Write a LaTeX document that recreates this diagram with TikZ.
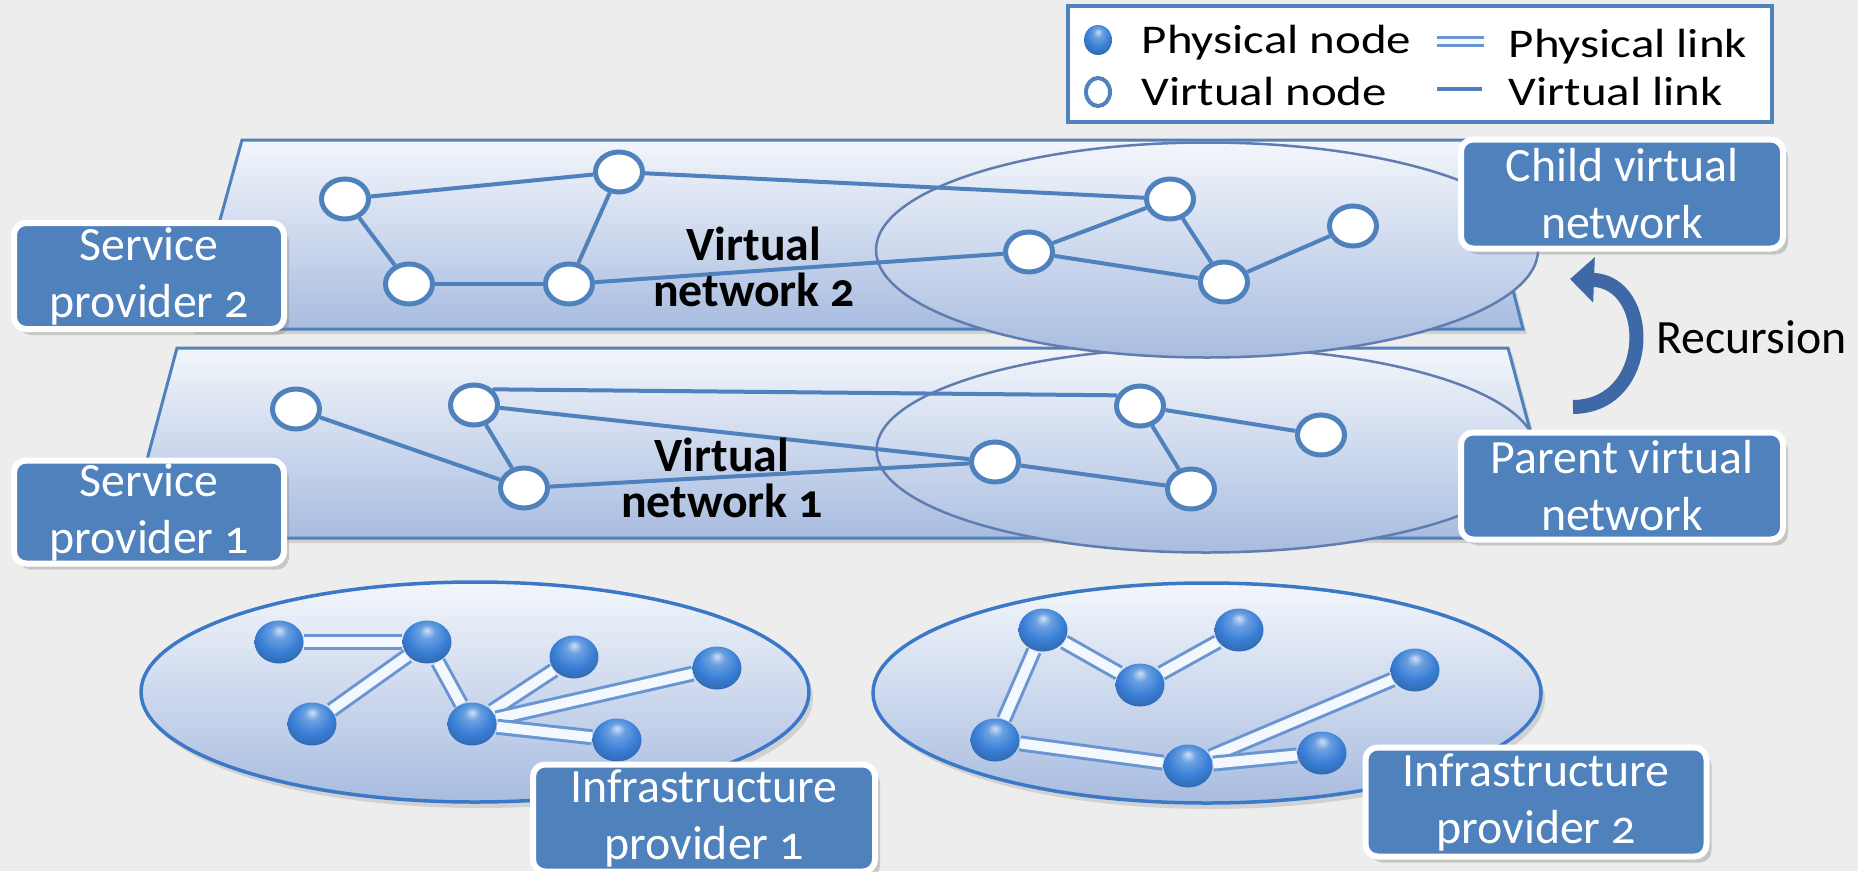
\documentclass[tikz,border=0pt]{standalone}
\usepackage{fontspec}
\setmainfont{Carlito}[Numbers=OldStyle]
\newfontfamily\legendfont{Carlito}[FakeStretch=1.2]
\usetikzlibrary{shapes.geometric}
\usetikzlibrary{shadows}
\usetikzlibrary{arrows.meta}

\definecolor{bggray}{RGB}{237,237,237}
\definecolor{boxblue}{RGB}{79,129,189}
\definecolor{vblue}{RGB}{79,129,189}
\definecolor{planetop}{RGB}{243,246,251}
\definecolor{planebot}{RGB}{168,188,224}
\definecolor{cloudedge}{RGB}{95,125,175}
\definecolor{infraedge}{RGB}{60,120,200}
\definecolor{pblue}{RGB}{58,128,215}
\definecolor{linkfill}{RGB}{242,248,254}
\definecolor{linkedge}{RGB}{105,150,210}
\definecolor{arrblue}{RGB}{62,104,166}

\pgfdeclareradialshading{globe}{\pgfqpoint{0bp}{14bp}}{%
  color(0bp)=(pblue!25!white); color(8bp)=(pblue!75!white); color(20bp)=(pblue);
  color(32bp)=(pblue!80!black); color(50bp)=(pblue!55!black)}

\begin{document}
\begin{tikzpicture}
  [x=0.1mm,y=-0.1mm,
  vplane/.style={draw=vblue,line width=0.3mm,top color=planetop,bottom color=planebot,
    drop shadow={opacity=0.25,shadow xshift=0.4mm,shadow yshift=-0.5mm}},
  netcloud/.style={ellipse,draw=cloudedge,line width=0.25mm,top color=planetop,bottom color=planebot,inner sep=0pt},
  infracloud/.style={netcloud,draw=infraedge,line width=0.35mm,
    drop shadow={opacity=0.25,shadow xshift=0.4mm,shadow yshift=-0.6mm}},
  vnode/.style={ellipse,draw=vblue,line width=0.5mm,fill=white,inner sep=0pt,minimum width=4.7mm,minimum height=4.0mm},
  pnode/.style={ellipse,shade,shading=globe,inner sep=0pt,minimum width=4.9mm,minimum height=4.3mm},
  vlink/.style={draw=vblue,line width=0.4mm},
  plink/.style={draw=linkedge,line width=0.3mm,double=linkfill,double distance=1.0mm},
  provbox/.style={rectangle,rounded corners=1.2mm,draw=white,line width=0.6mm,fill=boxblue,text=white,
    align=center,inner sep=0pt,font=\fontsize{13.6}{16.2}\selectfont,
    drop shadow={opacity=0.35,shadow xshift=0.5mm,shadow yshift=-0.6mm}},
  netlabel/.style={align=center,inner sep=0pt,font=\fontsize{13.6}{13}\selectfont\bfseries},
  legtext/.style={anchor=base west,inner sep=0pt,font=\legendfont\fontsize{11.6}{14}\selectfont},
  recarrow/.style={draw=arrblue,line width=1.4mm,-{Triangle[length=2.4mm,width=4.4mm]}}]

  \fill[bggray] (0,0) rectangle (1858,871);
  \useasboundingbox (0,0) rectangle (1858,871);

  % virtual network 1
  \draw[vplane] (177,348) -- (1508,348) -- (1559,538) -- (126,538) -- cycle;
  \node[netcloud,minimum width=65.9mm,minimum height=20.5mm] (parentnet) at (1206,450) {};

  \node[vnode] (v11) at (296,409) {};
  \node[vnode] (v12) at (474,405) {};
  \node[vnode] (v13) at (524,488) {};
  \node[vnode] (v14) at (1140,406) {};
  \node[vnode] (v15) at (995,462) {};
  \node[vnode] (v16) at (1191,489) {};
  \node[vnode] (v17) at (1321,435) {};

  \draw[vlink] (v11) -- (v13);
  \draw[vlink] (v12) -- (v13);
  \draw[vlink] (v12.40) -- (v14.155);
  \draw[vlink] (v12) -- (v15);
  \draw[vlink] (v13) -- (v15);
  \draw[vlink] (v14) -- (v16);
  \draw[vlink] (v14) -- (v17);
  \draw[vlink] (v15) -- (v16);

  \node[netlabel] (vn1) at (722,478) {Virtual\\network 1};

  % virtual network 2
  \draw[vplane] (242,140) -- (1474,140) -- (1523,329) -- (190,329) -- cycle;
  \node[netcloud,minimum width=66.2mm,minimum height=21.5mm] (childnet) at (1207,250) {};

  \node[vnode] (v21) at (345,199) {};
  \node[vnode] (v22) at (619,172) {};
  \node[vnode] (v23) at (409,284) {};
  \node[vnode] (v24) at (569,284) {};
  \node[vnode] (v25) at (1170,199) {};
  \node[vnode] (v26) at (1029,252) {};
  \node[vnode] (v27) at (1224,282) {};
  \node[vnode] (v28) at (1353,226) {};

  \draw[vlink] (v21) -- (v22);
  \draw[vlink] (v21) -- (v23);
  \draw[vlink] (v23) -- (v24);
  \draw[vlink] (v24) -- (v22);
  \draw[vlink] (v22) -- (v25);
  \draw[vlink] (v24) -- (v26);
  \draw[vlink] (v26) -- (v25);
  \draw[vlink] (v26) -- (v27);
  \draw[vlink] (v25) -- (v27);
  \draw[vlink] (v27) -- (v28);

  \node[netlabel] (vn2) at (754,267) {Virtual\\network 2};

  % infrastructure 1
  \node[infracloud,minimum width=66.8mm,minimum height=22mm] (infra1) at (475,692) {};

  \node[pnode] (p11) at (279,642) {};
  \node[pnode] (p12) at (427,642) {};
  \node[pnode] (p13) at (312,724) {};
  \node[pnode] (p14) at (574,657) {};
  \node[pnode] (p15) at (472,724) {};
  \node[pnode] (p16) at (717,668) {};
  \node[pnode] (p17) at (617,740) {};

  \draw[plink] (p11) -- (p12);
  \draw[plink] (p12) -- (p13);
  \draw[plink] (p12) -- (p15);
  \draw[plink] (p15) -- (p14);
  \draw[plink] (p15) -- (p16);
  \draw[plink] (p15) -- (p17);

  % infrastructure 2
  \node[infracloud,minimum width=66.8mm,minimum height=22mm] (infra2) at (1207,693) {};

  \node[pnode] (p21) at (1043,630) {};
  \node[pnode] (p22) at (1239,630) {};
  \node[pnode] (p23) at (1140,685) {};
  \node[pnode] (p24) at (1415,670) {};
  \node[pnode] (p25) at (995,740) {};
  \node[pnode] (p26) at (1188,766) {};
  \node[pnode] (p27) at (1322,753) {};

  \draw[plink] (p21) -- (p23);
  \draw[plink] (p23) -- (p22);
  \draw[plink] (p21) -- (p25);
  \draw[plink] (p25) -- (p26);
  \draw[plink] (p26) -- (p24);
  \draw[plink] (p26) -- (p27);

  % labels
  \node[provbox,minimum width=27mm,minimum height=10.6mm] (sp2) at (149,276) {Service\\provider 2};
  \node[provbox,minimum width=27mm,minimum height=10.3mm] (sp1) at (149,512) {Service\\provider 1};
  \node[provbox,minimum width=32.2mm,minimum height=10.9mm] (childbox) at (1622,194) {Child virtual\\network};
  \node[provbox,minimum width=32.2mm,minimum height=10.7mm] (parentbox) at (1622,486) {Parent virtual\\network};
  \node[provbox,minimum width=34.2mm,minimum height=10.7mm] (ip1) at (704,818) {Infrastructure\\provider 1};
  \node[provbox,minimum width=34.1mm,minimum height=10.9mm] (ip2) at (1536,802) {Infrastructure\\provider 2};

  \coordinate (rtail) at (1573,407);
  \coordinate (rtip) at (1570,279);
  \draw[recarrow] (rtail) .. controls (1654,406) and (1654,282) .. (rtip);
  \node[anchor=base west,inner sep=0pt,font=\fontsize{13.6}{16}\selectfont] (rec) at (1656,353) {Recursion};

  % legend
  \node[draw=vblue,line width=0.4mm,fill=white,minimum width=70.4mm,minimum height=11.6mm] (legend) at (1420,64) {};
  \node[pnode,minimum width=2.8mm,minimum height=3mm] (lgp) at (1098,40) {};
  \node[vnode,line width=0.4mm,minimum width=2.4mm,minimum height=2.8mm] (lgv) at (1098,92) {};
  \coordinate (lk1) at (1437,41);
  \coordinate (lk2) at (1484,41);
  \coordinate (lv1) at (1437,89);
  \coordinate (lv2) at (1482,89);
  \draw[plink,double distance=0.5mm] (lk1) -- (lk2);
  \draw[vlink] (lv1) -- (lv2);
  \node[legtext] (lt1) at (1141,53) {Physical node};
  \node[legtext] (lt2) at (1141,105) {Virtual node};
  \node[legtext] (lt3) at (1508,58) {Physical link};
  \node[legtext] (lt4) at (1508,105) {Virtual link};

\end{tikzpicture}
\end{document}
